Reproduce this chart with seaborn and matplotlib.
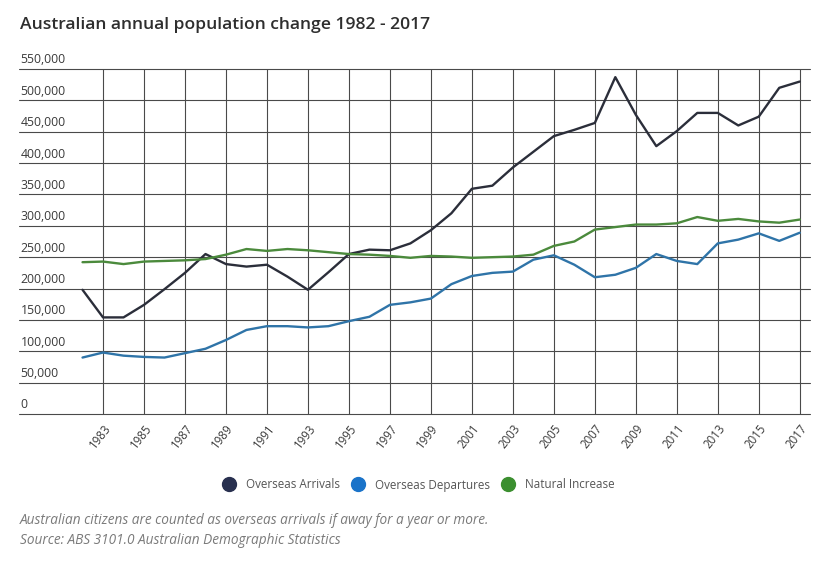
import numpy as np
import pandas as pd
import matplotlib
matplotlib.use("Agg")
import matplotlib.pyplot as plt
import seaborn as sns
from matplotlib.lines import Line2D
from matplotlib import transforms

# values
years = list(range(1982, 2018))
arrivals = [198000, 154000, 154000, 174000, 199000, 225000, 255000, 239000, 235000, 238000,
            219000, 198000, 226000, 255000, 262000, 261000, 272000, 293000, 320000, 359000,
            364000, 393000, 418000, 443000, 453000, 464000, 537000, 477000, 427000, 451000,
            480000, 480000, 460000, 474000, 520000, 530000]
departures = [90000, 98000, 93000, 91000, 90000, 97000, 104000, 118000, 134000, 140000,
              140000, 138000, 140000, 148000, 155000, 174000, 178000, 184000, 207000, 220000,
              225000, 227000, 246000, 253000, 238000, 218000, 222000, 233000, 255000, 244000,
              239000, 272000, 278000, 288000, 276000, 289000]
natural = [242000, 243000, 239000, 243000, 244000, 245000, 247000, 254000, 263000, 260000,
           263000, 261000, 258000, 255000, 254000, 252000, 249000, 252000, 251000, 249000,
           250000, 251000, 254000, 268000, 275000, 294000, 298000, 302000, 302000, 304000,
           314000, 308000, 311000, 307000, 305000, 310000]

series_names = ["Overseas Arrivals", "Overseas Departures", "Natural Increase"]
line_colors = ["#2b2e3a", "#2f74a8", "#4b8a3c"]
legend_colors = ["#28304f", "#1a73c9", "#3b8f2f"]
y_ticks = list(range(0, 550001, 50000))
x_ticks = years[1::2]

df = pd.DataFrame({"Year": years,
                   series_names[0]: arrivals,
                   series_names[1]: departures,
                   series_names[2]: natural})
long_df = df.melt(id_vars="Year", var_name="Series", value_name="Value")

sns.set_style("white")
plt.rcParams["font.family"] = ["Open Sans", "DejaVu Sans"]

fig = plt.figure(figsize=(8.32, 5.65), dpi=100)
ax = fig.add_axes([19 / 832, 1 - 414 / 565, (810 - 19) / 832, (414 - 69) / 565])

sns.lineplot(data=long_df, x="Year", y="Value", hue="Series",
             palette=dict(zip(series_names, line_colors)),
             linewidth=1.7, legend=False, ax=ax)

ax.set_xlim(1978.9, 2017.5)
ax.set_ylim(0, 550000)
ax.set_xticks(x_ticks)
ax.set_yticks(y_ticks)
ax.grid(True, color="#4a4a4a", linewidth=0.8)
ax.set_axisbelow(True)
for s in ax.spines.values():
    s.set_visible(False)
ax.set_xlabel("")
ax.set_ylabel("")

# y labels sit inside the plot, above each gridline
ax.set_yticklabels([])
ax.tick_params(axis="y", length=0)
trans = transforms.blended_transform_factory(ax.transAxes, ax.transData)
for v in y_ticks:
    ax.annotate(f"{v:,}", xy=(0, v), xycoords=trans, xytext=(1, 4),
                textcoords="offset points", ha="left", va="baseline",
                fontsize=8.8, color="#3a3a3a")

ax.set_xticklabels([str(y) for y in x_ticks], rotation=52, ha="right",
                   rotation_mode="anchor", fontsize=8.3, color="#3a3a3a")
ax.tick_params(axis="x", length=0, pad=6)

# baseline gridline would be half clipped at the axes edge
fig.canvas.draw()
for gl in ax.get_ygridlines() + ax.get_xgridlines():
    gl.set_clip_on(False)

fig.text(20 / 832, 1 - 25 / 565, "Australian annual population change 1982 - 2017",
         fontsize=12.6, fontweight="semibold", color="#2e2e2e", va="center", ha="left")

handles = [Line2D([0], [0], marker="o", linestyle="none", markersize=10,
                  markerfacecolor=c, markeredgecolor=c) for c in legend_colors]
fig.legend(handles, series_names, loc="center", bbox_to_anchor=(416 / 832, 1 - 485 / 565),
           ncol=3, frameon=False, fontsize=8.4, labelcolor="#555555",
           handletextpad=0.4, columnspacing=0.6)

fig.text(20 / 832, 1 - 520 / 565,
         "Australian citizens are counted as overseas arrivals if away for a year or more.",
         fontsize=9.8, style="italic", color="#7a7a7a", va="center", ha="left")
fig.text(20 / 832, 1 - 541 / 565, "Source: ABS 3101.0 Australian Demographic Statistics",
         fontsize=9.8, style="italic", color="#7a7a7a", va="center", ha="left")

fig.savefig("out.png", dpi=100, facecolor="white")
